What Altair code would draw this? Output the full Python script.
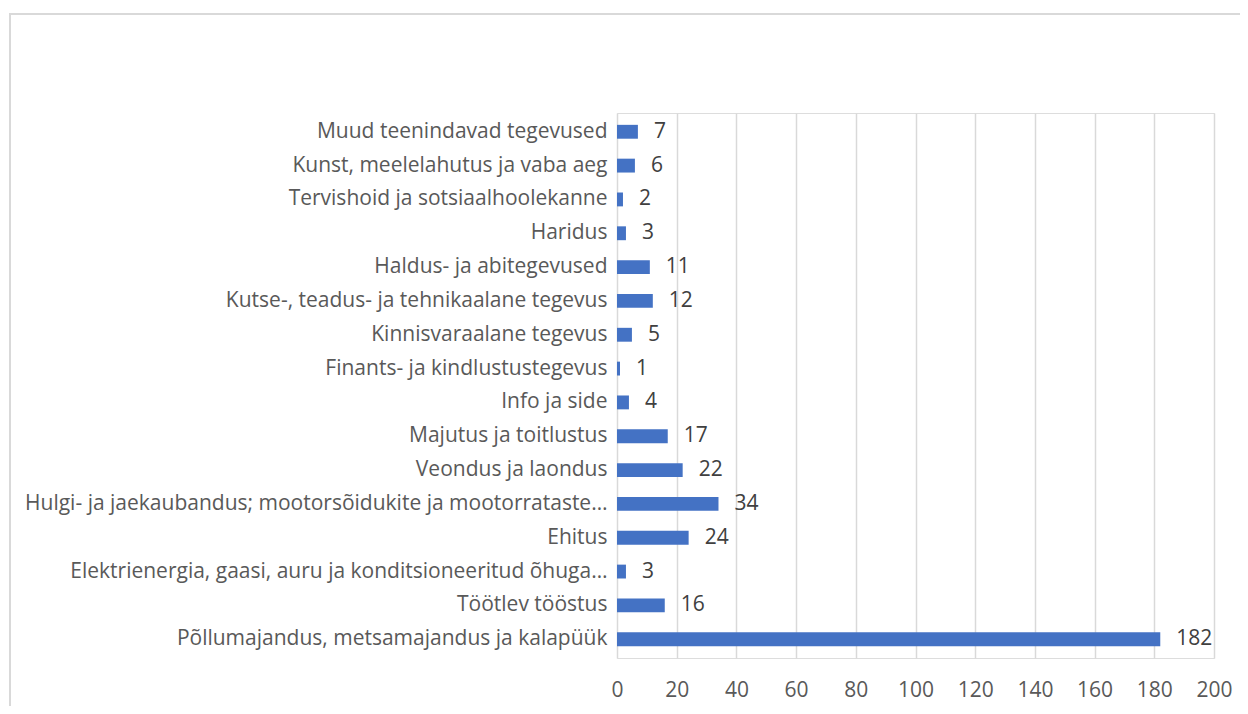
import altair as alt
import pandas as pd

categories = [
    "Muud teenindavad tegevused",
    "Kunst, meelelahutus ja vaba aeg",
    "Tervishoid ja sotsiaalhoolekanne",
    "Haridus",
    "Haldus- ja abitegevused",
    "Kutse-, teadus- ja tehnikaalane tegevus",
    "Kinnisvaraalane tegevus",
    "Finants- ja kindlustustegevus",
    "Info ja side",
    "Majutus ja toitlustus",
    "Veondus ja laondus",
    "Hulgi- ja jaekaubandus; mootorsõidukite ja mootorrataste…",
    "Ehitus",
    "Elektrienergia, gaasi, auru ja konditsioneeritud õhuga…",
    "Töötlev tööstus",
    "Põllumajandus, metsamajandus ja kalapüük",
]
values = [7, 6, 2, 3, 11, 12, 5, 1, 4, 17, 22, 34, 24, 3, 16, 182]
x_ticks = [0, 20, 40, 60, 80, 100, 120, 140, 160, 180, 200]

df = pd.DataFrame({"category": categories, "value": values})

FONT = "Open Sans"
FS = 21

y_enc = alt.Y(
    "category:N",
    sort=None,
    scale=alt.Scale(paddingInner=0.59, paddingOuter=0.35),
    axis=alt.Axis(
        title=None, ticks=False, domain=False, labelPadding=10,
        labelFontSize=FS, labelColor="#595959", labelFont=FONT, labelLimit=700,
    ),
)
x_enc = alt.X(
    "value:Q",
    scale=alt.Scale(domain=[0, 200], nice=False),
    axis=alt.Axis(
        title=None, values=x_ticks, ticks=False, domain=False,
        grid=True, gridColor="#D9D9D9", gridWidth=1.5, labelFlush=False,
        labelFontSize=FS, labelColor="#595959", labelFont=FONT, labelPadding=21,
    ),
)

bars = alt.Chart(df).mark_bar(color="#4472C4").encode(x=x_enc, y=y_enc)
labels = alt.Chart(df).mark_text(
    align="left", baseline="middle", dx=16, fontSize=FS, color="#404040", font=FONT
).encode(x=alt.X("value:Q"), y=alt.Y("category:N", sort=None), text="value:Q")

frame = alt.Chart(df).mark_rect(
    fill=None, stroke="#D9D9D9", strokeWidth=1.5, clip=False
).encode(
    x=alt.value(-607), x2=alt.value(700), y=alt.value(-99), y2=alt.value(700)
)

chart = alt.layer(frame, bars, labels).properties(
    width=597, height=545,
    autosize=alt.AutoSizeParams(type="none"),
    padding={"left": 609, "top": 105, "right": 26, "bottom": 48},
).configure_view(stroke=None).configure(background="white")

chart.save("out.html", embed_options={"renderer": "svg", "actions": False})
